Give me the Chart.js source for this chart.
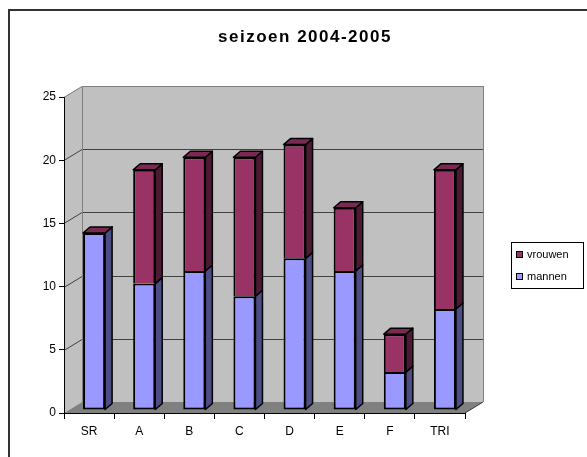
<!DOCTYPE html>
<html>
<head>
<meta charset="utf-8">
<script src="https://cdn.jsdelivr.net/npm/chart.js@4.4.1/dist/chart.umd.min.js"></script>
<style>
    html, body { margin: 0; padding: 0; background: #fff; }
    #wrap { width: 587px; height: 457px; }
</style>
</head>
<body>
<div id="wrap"><canvas id="grafiek" width="587" height="457"></canvas></div>
<script>
// Gegevens van de grafiek
const titel = 'seizoen 2004-2005';
const categorieen = ['SR', 'A', 'B', 'C', 'D', 'E', 'F', 'TRI'];
const mannen = [14, 10, 11, 9, 12, 11, 3, 8];
const vrouwen = [0, 9, 9, 11, 9, 5, 3, 11];
const yMax = 25;
const yStap = 5;

// 3D diepte van de wanden en van de staven
const DX = 18, DY = 11;
const BX = 7, BY = 6;
const SHIFT_X = 5, SHIFT_Y = -3;

const kleuren = {
    mannen: { voor: '#9999FF', zij: '#4D4D85', boven: '#7373BF' },
    vrouwen: { voor: '#993366', zij: '#4D1A33', boven: '#7A2952' }
};

// Achterwand, zijwand, vloer en rasterlijnen
const wandenPlugin = {
    id: 'wanden',
    beforeDraw(chart) {
        const ctx = chart.ctx;
        const { left, right, top, bottom } = chart.chartArea;
        const y = chart.scales.y;
        ctx.save();
        ctx.fillStyle = '#fff';
        ctx.fillRect(0, 0, chart.width, chart.height);

        // kader
        ctx.strokeStyle = '#333';
        ctx.lineWidth = 2;
        ctx.beginPath();
        ctx.moveTo(9, chart.height + 5);
        ctx.lineTo(9, 10);
        ctx.lineTo(chart.width + 5, 10);
        ctx.stroke();

        // achterwand
        ctx.fillStyle = '#C0C0C0';
        ctx.fillRect(left + DX, top - DY, right - left, bottom - top);
        // linker zijwand
        ctx.beginPath();
        ctx.moveTo(left, top);
        ctx.lineTo(left + DX, top - DY);
        ctx.lineTo(left + DX, bottom - DY);
        ctx.lineTo(left, bottom);
        ctx.closePath();
        ctx.fill();

        // rasterlijnen
        ctx.lineWidth = 1;
        for (let v = yStap; v <= yMax; v += yStap) {
            const py = Math.round(y.getPixelForValue(v)) + 0.5;
            ctx.strokeStyle = v === yMax ? '#808080' : '#404040';
            ctx.beginPath();
            ctx.moveTo(left, py);
            ctx.lineTo(left + DX, py - DY);
            ctx.lineTo(right + DX, py - DY);
            ctx.stroke();
        }
        ctx.strokeStyle = '#808080';
        ctx.beginPath();
        ctx.moveTo(right + DX + 0.5, top - DY);
        ctx.lineTo(right + DX + 0.5, bottom - DY);
        ctx.moveTo(left + DX + 0.5, top - DY);
        ctx.lineTo(left + DX + 0.5, bottom - DY);
        ctx.stroke();

        // vloer
        ctx.fillStyle = '#808080';
        ctx.beginPath();
        ctx.moveTo(left, bottom);
        ctx.lineTo(left + DX, bottom - DY);
        ctx.lineTo(right + DX, bottom - DY);
        ctx.lineTo(right, bottom);
        ctx.closePath();
        ctx.fill();
        ctx.strokeStyle = '#333';
        ctx.beginPath();
        ctx.moveTo(right, bottom);
        ctx.lineTo(right + DX, bottom - DY);
        ctx.stroke();
        ctx.restore();
    },
    beforeDatasetsDraw(chart) {
        chart.ctx.save();
        chart.ctx.translate(SHIFT_X, SHIFT_Y);
    },
    afterDatasetsDraw(chart) {
        const ctx = chart.ctx;
        const metas = chart.data.datasets.map((d, i) => chart.getDatasetMeta(i));
        ctx.lineWidth = 1.5;
        ctx.strokeStyle = '#000';
        ctx.lineJoin = 'round';
        categorieen.forEach((c, i) => {
            metas.forEach((meta, d) => {
                const el = meta.data[i];
                const p = el.getProps(['x', 'y', 'base', 'width'], true);
                const links = p.x - p.width / 2;
                const rechts = p.x + p.width / 2;
                const boven = Math.min(p.y, p.base);
                const onder = Math.max(p.y, p.base);
                const k = chart.data.datasets[d].kleur;
                // zijvlak
                ctx.fillStyle = k.zij;
                ctx.beginPath();
                ctx.moveTo(rechts, onder);
                ctx.lineTo(rechts, boven);
                ctx.lineTo(rechts + BX, boven - BY);
                ctx.lineTo(rechts + BX, onder - BY);
                ctx.closePath();
                ctx.fill();
                ctx.stroke();
                // bovenvlak alleen voor het bovenste deel
                if (d === metas.length - 1) {
                    ctx.fillStyle = k.boven;
                    ctx.beginPath();
                    ctx.moveTo(links, boven);
                    ctx.lineTo(links + BX, boven - BY);
                    ctx.lineTo(rechts + BX, boven - BY);
                    ctx.lineTo(rechts, boven);
                    ctx.closePath();
                    ctx.fill();
                    ctx.stroke();
                }
            });
        });
        ctx.restore();
    },
    afterDraw(chart) {
        const ctx = chart.ctx;
        ctx.save();
        // titel
        ctx.fillStyle = '#000';
        ctx.font = 'bold 17px "Liberation Sans", Arial, sans-serif';
        ctx.letterSpacing = '1.5px';
        ctx.textAlign = 'center';
        ctx.textBaseline = 'middle';
        ctx.fillText(titel, 305, 37);
        ctx.letterSpacing = '0px';

        // legenda
        ctx.strokeStyle = '#000';
        ctx.lineWidth = 1;
        ctx.strokeRect(511.5, 242.5, 72, 46);
        ctx.font = '11px "Liberation Sans", Arial, sans-serif';
        ctx.textAlign = 'left';
        const items = chart.data.datasets.slice().reverse();
        items.forEach((ds, n) => {
            const yy = 255 + n * 22;
            ctx.fillStyle = ds.backgroundColor;
            ctx.fillRect(516, yy - 4, 7, 7);
            ctx.strokeRect(516.5, yy - 3.5, 6, 6);
            ctx.fillStyle = '#000';
            ctx.fillText(ds.label, 527, yy);
        });
        ctx.restore();
    }
};

const ctx = document.getElementById('grafiek');
const grafiek = new Chart(ctx, {
    type: 'bar',
    data: {
        labels: categorieen,
        datasets: [{
            label: 'mannen',
            data: mannen,
            backgroundColor: kleuren.mannen.voor,
            kleur: kleuren.mannen,
            borderColor: '#000',
            borderWidth: 2,
            borderSkipped: false
        }, {
            label: 'vrouwen',
            data: vrouwen,
            backgroundColor: kleuren.vrouwen.voor,
            kleur: kleuren.vrouwen,
            borderColor: '#000',
            borderWidth: 2,
            borderSkipped: 'bottom'
        }]
    },
    options: {
        responsive: false,
        animation: false,
        datasets: {
            bar: { barPercentage: 0.88, categoryPercentage: 0.5 }
        },
        layout: {
            padding: { left: 0, top: 97, right: 122, bottom: 14 }
        },
        plugins: {
            legend: { display: false },
            title: { display: false },
            tooltip: { enabled: false }
        },
        scales: {
            x: {
                stacked: true,
                afterFit: s => { s.height = 30; },
                grid: { offset: true, drawOnChartArea: false, tickLength: 6, color: '#000' },
                border: { display: true, color: '#000', width: 1 },
                ticks: {
                    color: '#000',
                    padding: 5,
                    font: { family: '"Liberation Sans", Arial, sans-serif', size: 12 }
                }
            },
            y: {
                stacked: true,
                min: 0,
                max: yMax,
                afterFit: s => { s.width = 64; },
                grid: { drawOnChartArea: false, tickLength: 5, color: '#000' },
                border: { display: true, color: '#000', width: 1 },
                ticks: {
                    stepSize: yStap,
                    color: '#000',
                    padding: 3,
                    font: { family: '"Liberation Sans", Arial, sans-serif', size: 12 }
                }
            }
        }
    },
    plugins: [wandenPlugin]
});
</script>
</body>
</html>
